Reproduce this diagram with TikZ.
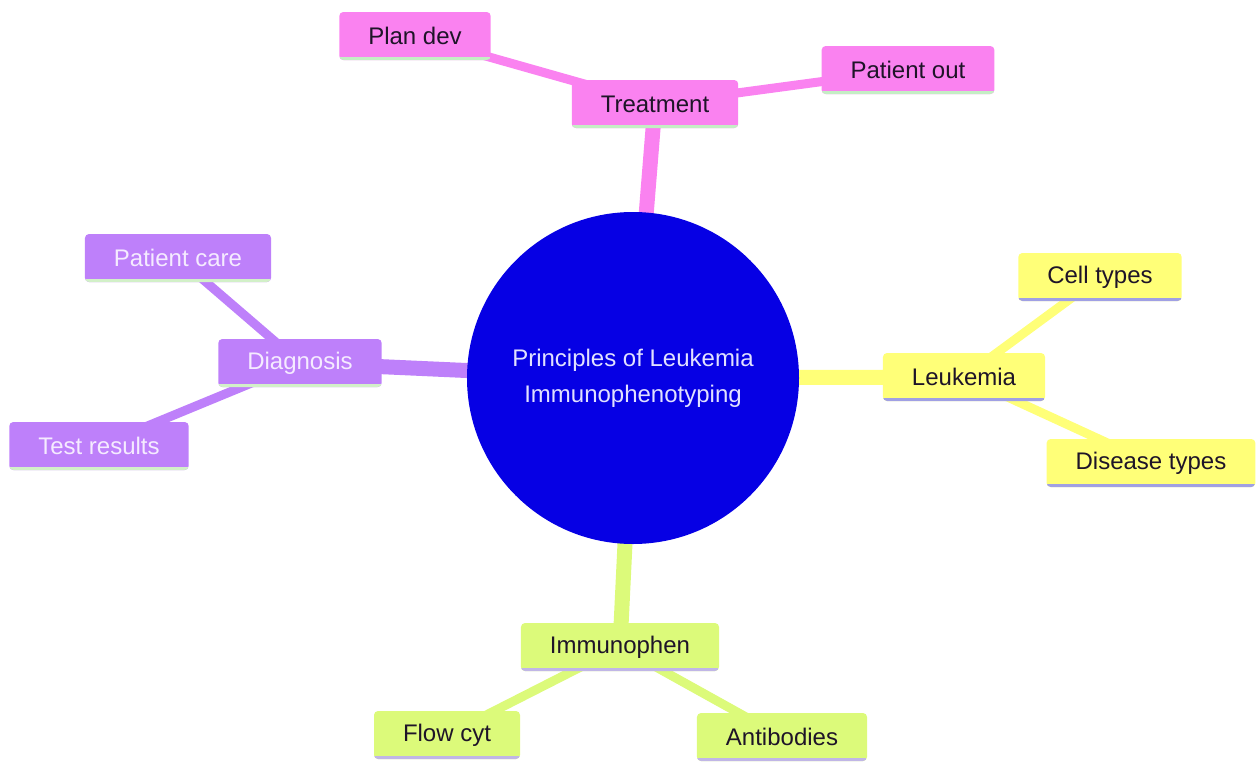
\documentclass[tikz,border=0pt]{standalone}
\usepackage{fontspec}
\setmainfont{Liberation Sans}
\usetikzlibrary{positioning}
\pgfdeclarelayer{bg}
\pgfsetlayers{bg,main}
\definecolor{pinkfill}{RGB}{250,130,240}
\definecolor{pinkline}{RGB}{196,238,196}
\definecolor{purpfill}{RGB}{190,128,250}
\definecolor{purpline}{RGB}{210,240,200}
\definecolor{yelfill}{RGB}{255,255,120}
\definecolor{yelline}{RGB}{160,160,228}
\definecolor{grnfill}{RGB}{220,250,122}
\definecolor{grnline}{RGB}{192,182,230}
\definecolor{rootblue}{RGB}{6,0,228}
\definecolor{roottxt}{RGB}{225,225,255}
\definecolor{darktxt}{RGB}{30,20,40}
\definecolor{lighttxt}{RGB}{245,235,255}

\begin{document}
\begin{tikzpicture}[x=1pt, y=-1pt,
	leaf/.style 2 args={rectangle, rounded corners=4pt, fill=#1, minimum height=48pt,
		inner xsep=29pt, font=\fontsize{24}{28}\selectfont,
		path picture={\draw[#2, line width=7pt] (path picture bounding box.south west)
		-- (path picture bounding box.south east);}},
	pinkbox/.style={leaf={pinkfill}{pinkline}, text=darktxt},
	purpbox/.style={leaf={purpfill}{purpline}, text=lighttxt},
	yelbox/.style={leaf={yelfill}{yelline}, text=darktxt},
	grnbox/.style={leaf={grnfill}{grnline}, text=darktxt},
	trunk/.style={line width=15pt},
	twig/.style={line width=9pt}]
\useasboundingbox (0,0) rectangle (1256,763);
\node[circle, fill=rootblue, minimum size=332pt, inner sep=0pt, text=roottxt, align=center,
	font=\fontsize{24}{36}\selectfont] (root) at (633,378) {Principles of Leukemia\\Immunophenotyping};
\node[pinkbox] (treat) at (655,104) {Treatment};
\node[pinkbox] (plandev) at (415,36) {Plan dev};
\node[pinkbox] (patout) at (908,70) {Patient out};
\node[purpbox] (diag) at (300,363) {Diagnosis};
\node[purpbox] (pcare) at (178,258) {Patient care};
\node[purpbox] (tres) at (99,446) {Test results};
\node[yelbox] (leuk) at (964,377) {Leukemia};
\node[yelbox] (cellt) at (1100,277) {Cell types};
\node[yelbox] (distype) at (1151,463) {Disease types};
\node[grnbox] (immu) at (620,647) {Immunophen};
\node[grnbox] (flowcyt) at (447,735) {Flow cyt};
\node[grnbox] (antib) at (782,737) {Antibodies};
\begin{pgfonlayer}{bg}
\draw[trunk, pinkfill] (root.center) -- (treat.center);
\draw[trunk, purpfill] (root.center) -- (diag.center);
\draw[trunk, yelfill] (root.center) -- (leuk.center);
\draw[trunk, grnfill] (root.center) -- (immu.center);
\draw[twig, pinkfill] (treat.center) -- (plandev.center);
\draw[twig, pinkfill] (treat.center) -- (patout.center);
\draw[twig, purpfill] (diag.center) -- (pcare.center);
\draw[twig, purpfill] (diag.center) -- (tres.center);
\draw[twig, yelfill] (leuk.center) -- (cellt.center);
\draw[twig, yelfill] (leuk.center) -- (distype.center);
\draw[twig, grnfill] (immu.center) -- (flowcyt.center);
\draw[twig, grnfill] (immu.center) -- (antib.center);
\end{pgfonlayer}
\end{tikzpicture}
\end{document}
